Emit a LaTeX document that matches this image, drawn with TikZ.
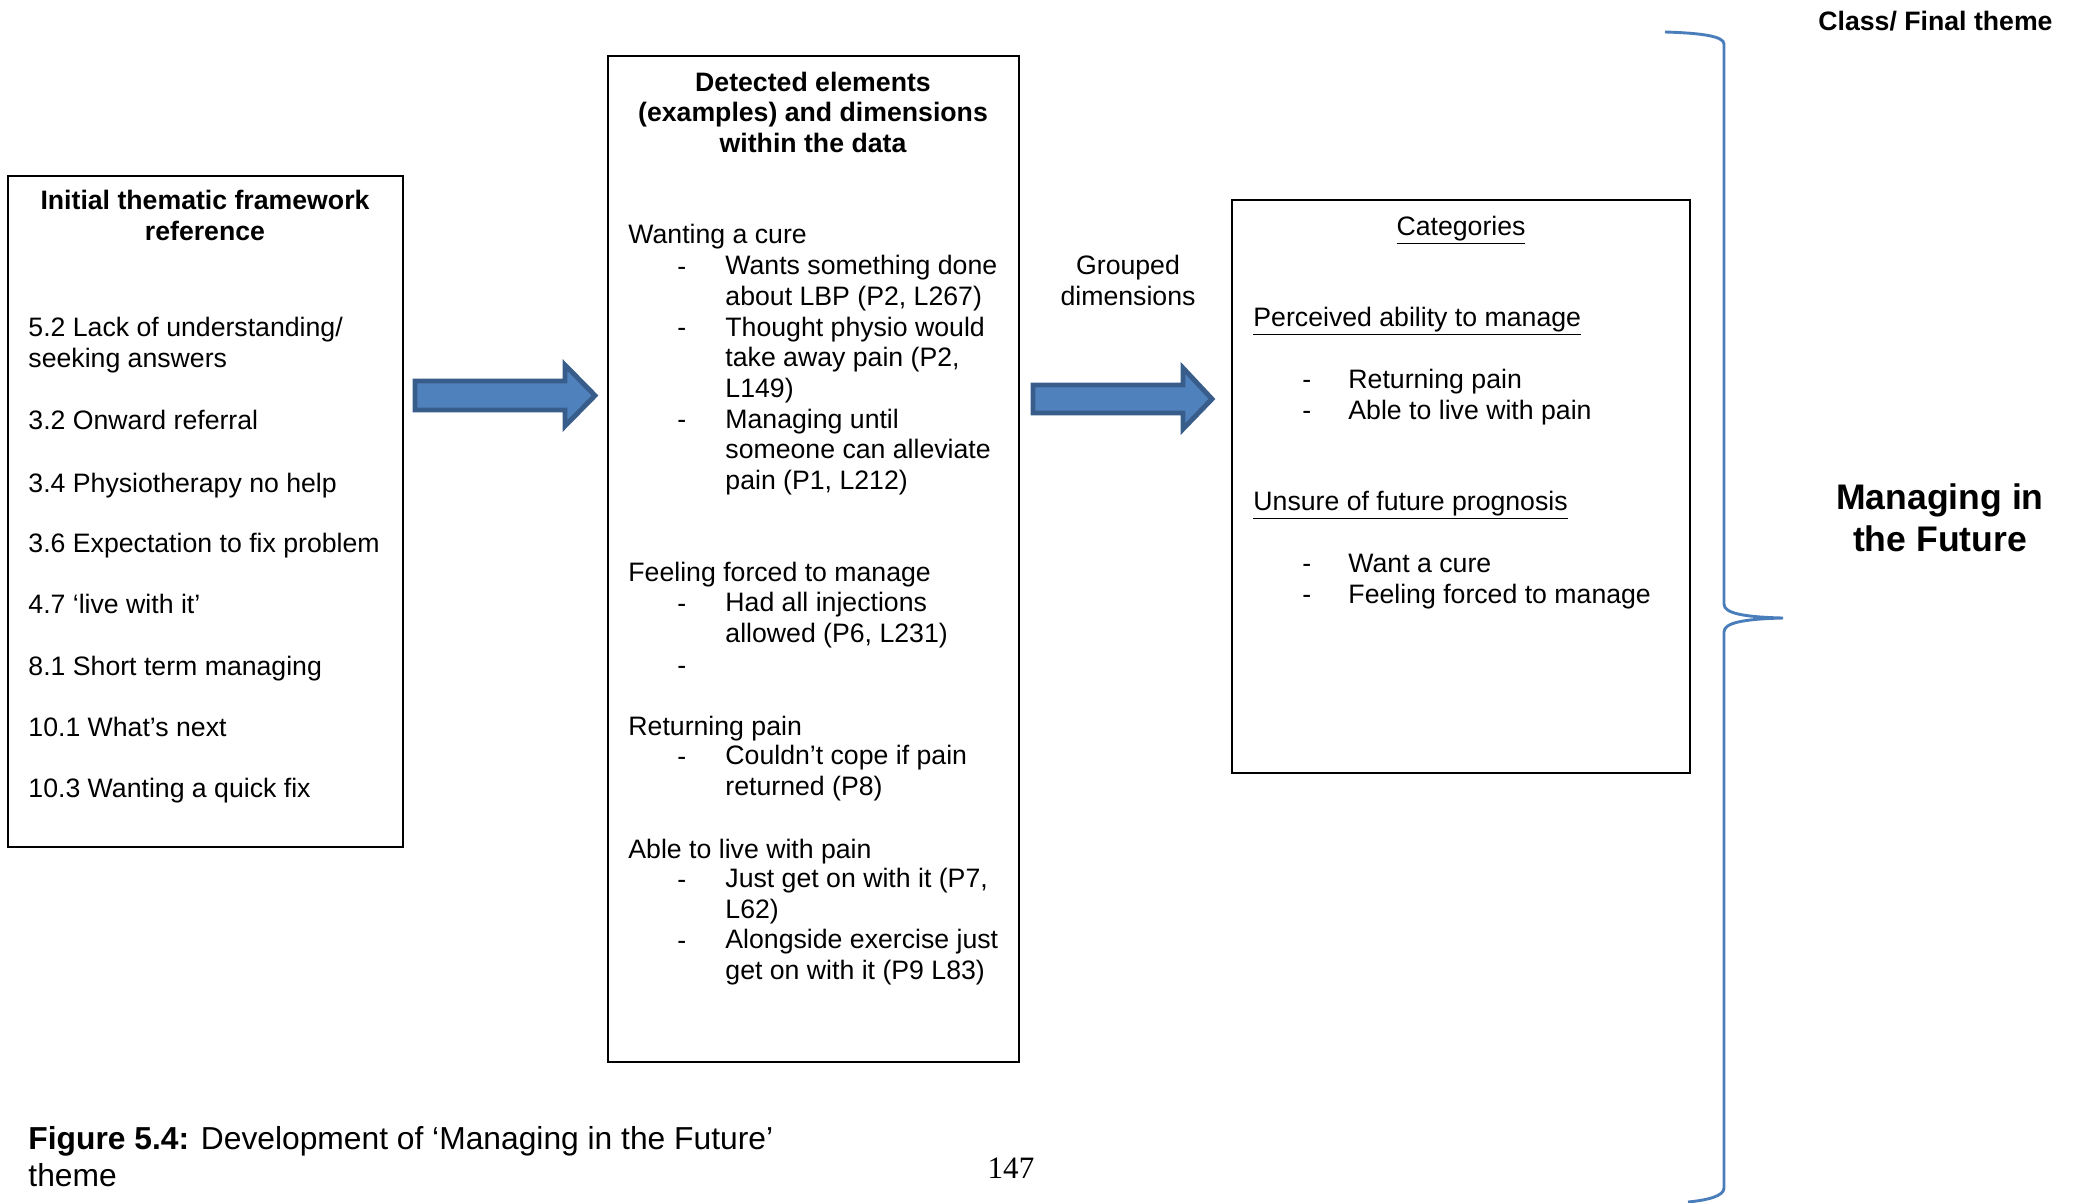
\documentclass[tikz,border=0pt]{standalone}
\usepackage{fontspec}
\setmainfont{Liberation Sans}
\newfontfamily\pagenumfont{Liberation Serif}
\definecolor{arrowfill}{HTML}{4F81BD}
\definecolor{arrowedge}{HTML}{385D8A}
\definecolor{bracecol}{HTML}{4A7EBB}

\begin{document}
\begin{tikzpicture}[x=0.45pt, y=-0.45pt,
    frame/.style={draw=black, line width=0.95pt},
    body/.style={inner sep=0pt, anchor=base west, align=left, font=\fontsize{12}{13.7}\selectfont},
    head/.style={inner sep=0pt, anchor=base, align=center, font=\fontsize{12}{13.7}\selectfont\bfseries},
    blockarrow/.style={fill=arrowfill, draw=arrowedge, line width=2.2pt, line join=miter},
    brace/.style={draw=bracecol, line width=1.3pt}]
    \useasboundingbox (0,0) rectangle (2073,1202);
    {
    % Drawing box of the initial framework (multi-line nodes sit on their last baseline)
    \draw [frame] (8,176) rectangle (403,847);%
    \node [head] (initTitle) at (205,240) {Initial thematic framework\\reference};%
    \node [body] (init52) at (28,367) {5.2 Lack of understanding/\\seeking answers};%
    \node [body] (init32) at (28,429) {3.2 Onward referral};%
    \node [body] (init34) at (28,492) {3.4 Physiotherapy no help};%
    \node [body] (init36) at (28,552) {3.6 Expectation to fix problem};%
    \node [body] (init47) at (28,613) {4.7 ‘live with it’};%
    \node [body] (init81) at (28,675) {8.1 Short term managing};%
    \node [body] (init101) at (28,736) {10.1 What’s next};%
    \node [body] (init103) at (28,797) {10.3 Wanting a quick fix};%

    % Drawing arrow to the detected elements
    \draw [blockarrow] (415,381) -- (565,381) -- (565,365) -- (595,395.5)
        -- (565,426) -- (565,410) -- (415,410) -- cycle;%

    % Drawing box of the detected elements
    \draw [frame] (608,56) rectangle (1019,1062);%
    \node [head] (detTitle) at (813,152) {Detected elements\\(examples) and dimensions\\within the data};%

    \node [body] (cure) at (628,243) {Wanting a cure};%
    \node [body] (cureDashA) at (677,275) {-};%
    \node [body] (cureA) at (725,305) {Wants something done\\about LBP (P2, L267)};%
    \node [body] (cureDashB) at (677,336) {-};%
    \node [body] (cureB) at (725,397) {Thought physio would\\take away pain (P2,\\L149)};%
    \node [body] (cureDashC) at (677,428) {-};%
    \node [body] (cureC) at (725,489) {Managing until\\someone can alleviate\\pain (P1, L212)};%

    \node [body] (forced) at (628,581) {Feeling forced to manage};%
    \node [body] (forcedDashA) at (677,612) {-};%
    \node [body] (forcedA) at (725,642) {Had all injections\\allowed (P6, L231)};%
    \node [body] (forcedDashB) at (677,674) {-};%

    \node [body] (returning) at (628,735) {Returning pain};%
    \node [body] (returningDash) at (677,765) {-};%
    \node [body] (returningA) at (725,795) {Couldn’t cope if pain\\returned (P8)};%

    \node [body] (able) at (628,858) {Able to live with pain};%
    \node [body] (ableDashA) at (677,888) {-};%
    \node [body] (ableA) at (725,918) {Just get on with it (P7,\\L62)};%
    \node [body] (ableDashB) at (677,949) {-};%
    \node [body] (ableB) at (725,979) {Alongside exercise just\\get on with it (P9 L83)};%

    % Drawing arrow to the categories
    \node [inner sep=0pt, anchor=base, align=center, font=\fontsize{12}{13.7}\selectfont] (grouped) at (1128,305) {Grouped\\dimensions};%
    \draw [blockarrow] (1033,385) -- (1183,385) -- (1183,368) -- (1212,399)
        -- (1183,429) -- (1183,413) -- (1033,413) -- cycle;%

    % Drawing box of the categories
    \draw [frame] (1232,200) rectangle (1690,773);%
    \node [inner sep=0pt, anchor=base, font=\fontsize{12}{13.7}\selectfont] (catTitle) at (1461,235) {\underline{Categories}};%
    \node [body] (perceived) at (1253,326) {\underline{Perceived ability to manage}};%
    \node [body] (perceivedDashA) at (1302,388) {-};%
    \node [body] (perceivedA) at (1348,388) {Returning pain};%
    \node [body] (perceivedDashB) at (1302,419) {-};%
    \node [body] (perceivedB) at (1348,419) {Able to live with pain};%
    \node [body] (unsure) at (1253,510) {\underline{Unsure of future prognosis}};%
    \node [body] (unsureDashA) at (1302,572) {-};%
    \node [body] (unsureA) at (1348,572) {Want a cure};%
    \node [body] (unsureDashB) at (1302,603) {-};%
    \node [body] (unsureB) at (1348,603) {Feeling forced to manage};%

    % Drawing brace and final theme
    \draw [brace] (1665,32) .. controls (1700,33) and (1724,36) .. (1724,44)
        -- (1724,604) .. controls (1724,613) and (1742,617) .. (1783,618)
        .. controls (1742,619) and (1724,623) .. (1724,632)
        -- (1724,1188) .. controls (1724,1196) and (1708,1200) .. (1688,1202);%
    \node [head, anchor=base east] (classTitle) at (2053,30) {Class/ Final theme};%
    \node [inner sep=0pt, anchor=base, align=center, font=\fontsize{16}{18.9}\selectfont\bfseries] (finalTheme) at (1940,551) {Managing in\\the Future};%

    % Caption and page number
    \node [inner sep=0pt, anchor=base west, align=left, font=\fontsize{14.3}{16.4}\selectfont] (caption) at (28,1186) {\textbf{Figure 5.4:} Development of ‘Managing in the Future’\\theme};%
    \node [inner sep=0pt, anchor=base, font=\pagenumfont\fontsize{14}{16}\selectfont] (pageNum) at (1011,1178) {147};%
    }
\end{tikzpicture}
\end{document}
